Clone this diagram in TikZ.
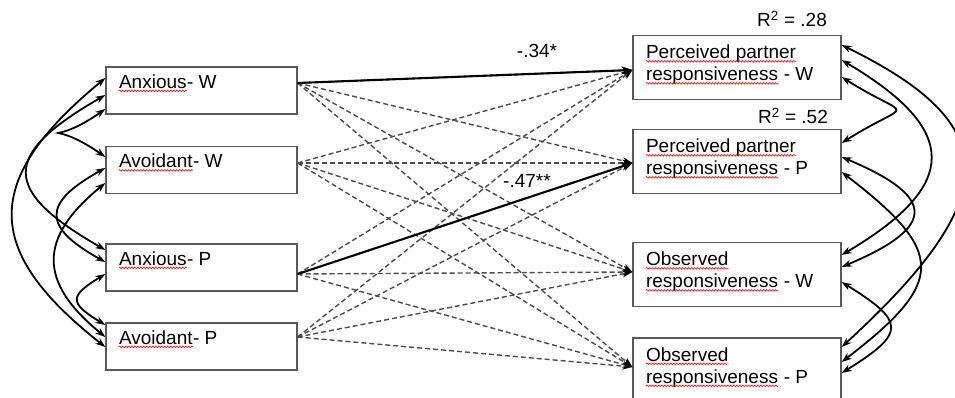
\documentclass[tikz,border=0pt]{standalone}
\usepackage{fontspec}
\setmainfont{Liberation Sans}
\usetikzlibrary{arrows.meta,calc,decorations.pathmorphing}

\tikzset{
  lbox/.style={draw=black!65, line width=1.3pt, minimum width=191pt, minimum height=47pt, inner sep=0pt},
  rbox/.style={draw=black!65, line width=1.3pt, minimum width=208pt, minimum height=64pt, inner sep=0pt},
  txt/.style={anchor=base west, inner sep=0pt},
  coef/.style={anchor=base, inner sep=0pt},
  effect/.style={black!70, line width=1.4pt, dash pattern=on 5pt off 3pt, -{Stealth[length=10pt,width=7pt,black]}},
  sig/.style={black, line width=2.1pt, -{Stealth[length=11pt,width=8pt]}},
  cov/.style={black, line width=1.8pt, {Stealth[length=10pt,width=7pt]}-{Stealth[length=10pt,width=7pt]}},
  spellline/.style={red, line width=0.6pt, decorate, decoration={snake, amplitude=0.8pt, segment length=3pt}}
}
% red wavy underline of the spell checker
\newcommand{\spell}[1]{\tikz[baseline=(sp.base)]{\node[inner sep=0pt, anchor=base west] (sp) {#1};
  \draw[spellline] ([yshift=-2.5pt]sp.base west) -- ([yshift=-2.5pt]sp.base east);}}

\begin{document}
\begin{tikzpicture}[x=1pt, y=-1pt, font=\fontsize{19}{22}\selectfont]
\useasboundingbox (0,0) rectangle (955,398);
% predictors
\node[lbox] (aw)  at (201.5,90.5)  {};
\node[lbox] (avw) at (201.5,170)   {};
\node[lbox] (ap)  at (201.5,267.5) {};
\node[lbox] (avp) at (201.5,346.5) {};
% outcomes
\node[rbox] (pw) at (737,67.5)  {};
\node[rbox] (pp) at (737,161.5) {};
\node[rbox] (ow) at (737,274.5) {};
\node[rbox] (op) at (737,370)   {};

\node[txt] (aw-t)  at ($(aw.north west)+(13,22)$)  {\spell{Anxious}- W};
\node[txt] (avw-t) at ($(avw.north west)+(13,22)$) {\spell{Avoidant}- W};
\node[txt] (ap-t)  at ($(ap.north west)+(13,22)$)  {\spell{Anxious}- P};
\node[txt] (avp-t) at ($(avp.north west)+(13,22)$) {\spell{Avoidant}- P};
\node[txt] (pw-t) at ($(pw.north west)+(13,24)$) {\parbox[t]{190pt}{\spell{Perceived partner}\\\spell{responsiveness} - W}};
\node[txt] (pp-t) at ($(pp.north west)+(13,24)$) {\parbox[t]{190pt}{\spell{Perceived partner}\\\spell{responsiveness} - P}};
\node[txt] (ow-t) at ($(ow.north west)+(13,24)$) {\parbox[t]{190pt}{\spell{Observed}\\\spell{responsiveness} - W}};
\node[txt] (op-t) at ($(op.north west)+(13,24)$) {\parbox[t]{190pt}{\spell{Observed}\\\spell{responsiveness} - P}};

\node[coef] (r-pw) at ($(pw.north)+(55,-8.5)$) {R\textsuperscript{2} = .28};
\node[coef] (r-pp) at ($(pp.north)+(56,-5.5)$) {R\textsuperscript{2} = .52};

% paths
\foreach \s/\sy in {aw/-7.5, avw/-7, ap/6.5, avp/-9.5}
  \foreach \t/\ty in {pw/2.5, pp/1.5, ow/-2.5, op/-3}
    \draw[effect] ($(\s.east)+(0,\sy)$) -- ($(\t.west)+(0,\ty)$);
\draw[sig] ($(aw.east)+(0,-7.5)$) -- ($(pw.west)+(0,2.5)$);
\draw[sig] ($(ap.east)+(0,6.5)$) -- ($(pp.west)+(0,1.5)$);
\node[coef] (c-aw) at (537,58)  {-.34*};
\node[coef] (c-ap) at (527,187) {-.47**};

% covariances, predictors
\draw[cov] ($(aw.west)+(0,18.5)$) .. controls (44,152) and (44,114) .. ($(avw.west)+(0,-13)$);
\draw[cov] ($(aw.west)+(0,-12.5)$) .. controls (-18,180) and (-18,250) .. ($(avp.west)+(0,0.5)$);
\draw[cov] ($(aw.west)+(0,4.5)$) .. controls (1,155) and (1,190) .. ($(ap.west)+(0,-17.5)$);
\draw[cov] ($(avw.west)+(0,-2)$) .. controls (42,203) and (42,227) .. ($(ap.west)+(0,-5.5)$);
\draw[cov] ($(avw.west)+(0,13)$) .. controls (38,238) and (38,282) .. ($(avp.west)+(0,-9.5)$);
\draw[cov] ($(ap.west)+(0,6.5)$) .. controls (69,296) and (69,303) .. ($(avp.west)+(0,-21.5)$);
% covariances, outcomes
\draw[cov] ($(pw.east)+(0,9.5)$) .. controls (913,122) and (913,98) .. ($(pp.east)+(0,-18.5)$);
\draw[cov] ($(pw.east)+(0,-7.5)$) .. controls (960,130) and (960,185) .. ($(ow.east)+(0,-19.5)$);
\draw[cov] ($(pw.east)+(0,-22.5)$) .. controls (1005,125) and (1005,197) .. ($(op.east)+(0,-23)$);
\draw[cov] ($(pp.east)+(0,-4.5)$) .. controls (937,197) and (937,227) .. ($(ow.east)+(0,-7.5)$);
\draw[cov] ($(pp.east)+(0,10.5)$) .. controls (946,252) and (946,282) .. ($(op.east)+(0,-8)$);
\draw[cov] ($(ow.east)+(0,7.5)$) .. controls (906,322) and (906,333) .. ($(op.east)+(0,3)$);
\end{tikzpicture}
\end{document}
